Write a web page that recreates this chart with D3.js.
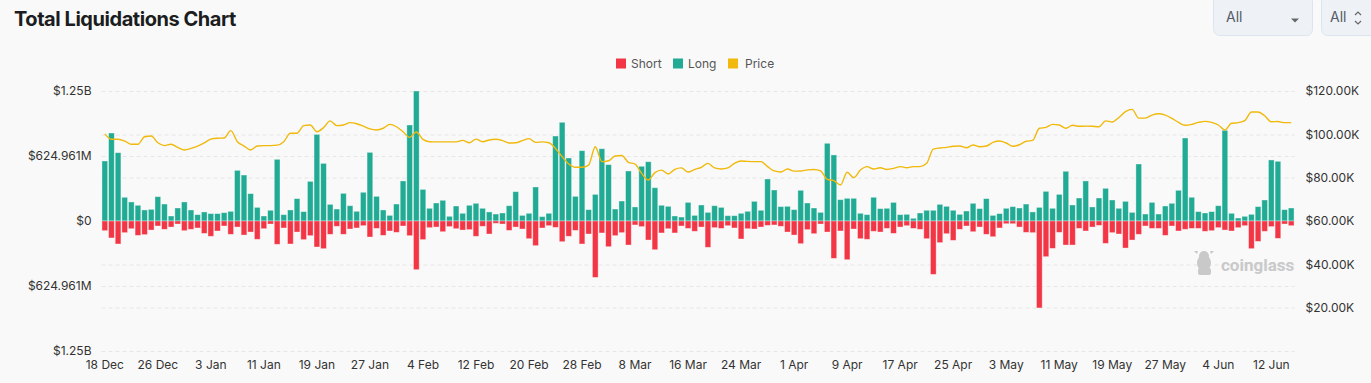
<!DOCTYPE html>
<html>
<head>
<meta charset="utf-8">
<script src="https://cdn.jsdelivr.net/npm/d3@7/dist/d3.min.js"></script>
<style>
  html, body { margin: 0; padding: 0; background: #f9f9f9; }
  svg { display: block; font-family: Inter, "Noto Sans", sans-serif; }
</style>
</head>
<body>
<svg id="chart" width="1371" height="383"></svg>
<script>
// ---- DATA (daily, 18 Dec 2024 – 15 Jun 2025) ----
const startDate = "2024-12-18";
const dayCount = 180;
const longValues = [ // USD millions
  577, 846, 657, 228, 183, 151, 106, 112, 234, 163,
  48, 125, 183, 106, 61, 87, 71, 71, 80, 93,
  487, 442, 263, 131, 48, 103, 593, 61, 106, 215,
  90, 381, 833, 554, 160, 115, 266, 147, 93, 276,
  660, 237, 106, 54, 163, 385, 923, 1250, 304, 122,
  173, 199, 45, 144, 74, 151, 170, 122, 87, 67,
  77, 147, 282, 54, 74, 327, 42, 74, 817, 949,
  606, 237, 676, 109, 256, 695, 542, 115, 192, 481,
  135, 526, 570, 320, 151, 141, 48, 38, 179, 54,
  154, 83, 147, 131, 51, 51, 74, 93, 189, 103,
  404, 298, 138, 141, 109, 295, 173, 125, 83, 747,
  635, 205, 218, 218, 74, 61, 228, 119, 122, 179,
  61, 64, 26, 77, 103, 103, 160, 141, 103, 64,
  96, 170, 119, 215, 54, 71, 122, 138, 125, 163,
  87, 131, 285, 122, 256, 478, 154, 221, 385, 135,
  221, 314, 202, 122, 189, 83, 548, 67, 179, 67,
  144, 170, 295, 798, 228, 90, 77, 90, 147, 872,
  74, 29, 45, 64, 138, 202, 587, 574, 109, 125
];
const shortValues = [ // USD millions
  93, 163, 221, 112, 74, 138, 131, 87, 48, 80,
  58, 29, 93, 80, 67, 119, 147, 96, 48, 128,
  58, 135, 106, 176, 74, 29, 224, 67, 221, 106,
  179, 141, 250, 266, 128, 51, 128, 77, 67, 45,
  154, 71, 138, 96, 109, 48, 141, 468, 179, 64,
  58, 103, 54, 74, 87, 83, 147, 51, 125, 22,
  29, 90, 58, 77, 170, 237, 67, 45, 61, 199,
  147, 90, 221, 125, 542, 115, 247, 141, 112, 231,
  38, 54, 183, 276, 115, 74, 115, 48, 71, 99,
  58, 253, 64, 71, 45, 67, 173, 74, 77, 58,
  42, 38, 51, 106, 135, 218, 83, 122, 29, 106,
  359, 96, 372, 77, 170, 176, 99, 106, 71, 119,
  58, 45, 71, 80, 170, 513, 208, 122, 186, 80,
  48, 103, 58, 128, 151, 67, 26, 26, 58, 109,
  112, 836, 343, 263, 109, 231, 231, 71, 96, 58,
  42, 215, 112, 125, 260, 183, 128, 48, 71, 71,
  138, 48, 96, 80, 71, 71, 99, 93, 64, 87,
  96, 64, 45, 266, 196, 99, 54, 167, 29, 45
];
const priceValues = [ // USD thousands
  100.2, 97.7, 97.7, 96.9, 95.4, 95.4, 98.9, 99.2, 96.1, 94.8,
  95.4, 94.0, 92.8, 93.5, 94.6, 96.1, 97.8, 98.2, 98.3, 101.7,
  96.6, 94.6, 92.8, 94.6, 94.8, 94.8, 95.0, 96.6, 100.5, 100.5,
  104.0, 104.3, 101.2, 103.1, 106.2, 104.0, 104.3, 105.4, 104.9, 103.8,
  102.5, 102.0, 102.8, 104.6, 103.5, 101.2, 98.6, 101.1, 97.7, 96.6,
  96.5, 96.5, 96.5, 96.5, 97.2, 96.1, 97.8, 96.6, 97.4, 97.7,
  97.1, 96.0, 96.1, 97.1, 98.0, 96.3, 96.5, 96.1, 93.5, 89.7,
  86.3, 84.8, 84.8, 85.8, 94.3, 87.4, 87.8, 90.0, 90.2, 87.1,
  86.3, 82.0, 78.9, 82.3, 83.5, 81.7, 83.8, 84.5, 82.6, 83.8,
  84.8, 86.6, 84.5, 84.0, 84.5, 86.6, 87.7, 87.5, 87.4, 87.4,
  85.1, 83.1, 82.6, 84.0, 83.0, 83.1, 83.6, 83.8, 83.1, 79.2,
  78.6, 76.6, 82.5, 80.0, 83.5, 85.1, 84.0, 84.6, 83.8, 84.3,
  85.1, 84.6, 85.1, 85.1, 86.6, 93.2, 93.7, 94.0, 94.5, 94.6,
  93.8, 95.1, 94.3, 94.6, 96.3, 96.9, 96.0, 94.5, 95.2, 96.8,
  97.2, 102.8, 103.2, 104.6, 104.3, 102.8, 104.2, 103.7, 103.8, 103.7,
  103.5, 106.2, 105.7, 107.8, 110.5, 111.5, 107.5, 107.5, 108.9, 109.5,
  108.9, 107.4, 105.5, 104.2, 104.6, 105.5, 106.0, 105.5, 104.3, 102.0,
  105.1, 105.4, 106.3, 110.3, 110.3, 108.6, 105.8, 105.9, 105.4, 105.4
];
const xTickLabels = ["18 Dec","26 Dec","3 Jan","11 Jan","19 Jan","27 Jan","4 Feb","12 Feb","20 Feb","28 Feb","8 Mar","16 Mar","24 Mar","1 Apr","9 Apr","17 Apr","25 Apr","3 May","11 May","19 May","27 May","4 Jun","12 Jun"];
const leftTicks = [1249.922, 624.961, 0, -624.961, -1249.922];
const leftTickLabels = ["$1.25B", "$624.961M", "$0", "$624.961M", "$1.25B"];
const rightTicks = [120, 100, 80, 60, 40, 20];
const rightTickLabels = ["$120.00K", "$100.00K", "$80.00K", "$60.00K", "$40.00K", "$20.00K"];
const legendItems = ["Short", "Long", "Price"];

// ---- build ----
const svg = d3.select("#chart");
const W = 1371, H = 383;
const margin = { left: 101.5, right: 76.5, top: 91, bottom: 32 };
const colors = { Short: "#f23645", Long: "#22ab94", Price: "#f0b90b" };

const fmt = d3.utcFormat("%-d %b");
const parse = d3.utcParse("%Y-%m-%d");
const t0 = parse(startDate);
const dates = d3.range(dayCount).map(i => d3.utcDay.offset(t0, i));
const keys = dates.map(d => fmt(d));

const x = d3.scaleBand().domain(keys).range([margin.left, W - margin.right]).paddingInner(0.14).paddingOuter(0.07);
const yL = d3.scaleLinear().domain([-1249.922, 1249.922]).range([H - margin.bottom, margin.top]);
const yR = d3.scaleLinear().domain([0, 120]).range([H - margin.bottom, margin.top]);

// title
svg.append("text").attr("x", 14).attr("y", 26).text("Total Liquidations Chart")
  .attr("font-size", 20).attr("font-weight", 700).attr("fill", "#1b1d21").attr("letter-spacing", -0.45);

// dropdowns
const dd = svg.append("g");
dd.append("rect").attr("x", 1213.5).attr("y", -4).attr("width", 99).attr("height", 39.5).attr("rx", 6)
  .attr("fill", "#eef2f6").attr("stroke", "#dce5ee");
dd.append("text").attr("x", 1226).attr("y", 22).text("All").attr("font-size", 14).attr("fill", "#555b66");
dd.append("path").attr("d", "M1291,18.5 L1299,18.5 L1295,22.5 Z").attr("fill", "#666");
dd.append("rect").attr("x", 1321.5).attr("y", -4).attr("width", 60).attr("height", 39.5).attr("rx", 6)
  .attr("fill", "#eef2f6").attr("stroke", "#dce5ee");
dd.append("text").attr("x", 1330).attr("y", 22).text("All").attr("font-size", 14).attr("fill", "#555b66");
dd.append("path").attr("d", "M1355,15 L1358,12 L1361,15 M1355,21 L1358,24 L1361,21").attr("fill", "none").attr("stroke", "#666").attr("stroke-width", 1.2);

// legend
const legX = [616, 673, 728];
const legTextDx = [15, 15, 17];
legendItems.forEach((k, i) => {
  svg.append("rect").attr("x", legX[i]).attr("y", 58.5).attr("width", 10).attr("height", 10).attr("fill", colors[k]);
  svg.append("text").attr("x", legX[i] + legTextDx[i]).attr("y", 67.5).text(k).attr("font-size", 12).attr("fill", "#555");
});

// grid lines
const grid = svg.append("g");
const gridYs = Array.from(new Set(leftTicks.map(v => Math.round(yL(v) * 2) / 2).concat(rightTicks.map(v => Math.round(yR(v) * 2) / 2))));
gridYs.forEach(gy => {
  grid.append("line").attr("x1", margin.left).attr("x2", W - margin.right).attr("y1", gy + 0.5).attr("y2", gy + 0.5)
    .attr("stroke", "#e6e6e6").attr("stroke-dasharray", "4,3");
});

// watermark
const wm = svg.append("g").attr("fill", "#c9c9c9");
wm.append("ellipse").attr("cx", 1204).attr("cy", 263).attr("rx", 7).attr("ry", 8);
wm.append("circle").attr("cx", 1204).attr("cy", 256).attr("r", 5);
wm.append("rect").attr("x", 1198).attr("y", 268).attr("width", 13).attr("height", 7).attr("rx", 2);
wm.append("path").attr("d", "M1197,254 l-3,-3 l4,0 Z M1211,254 l3,-3 l-4,0 Z");
wm.append("text").attr("x", 1221).attr("y", 271).text("coinglass").attr("font-size", 17).attr("font-weight", 700)
  .attr("font-family", "Roboto, sans-serif").attr("fill", "#c9c9c9");

// bars
const bars = svg.append("g");
bars.selectAll(".long").data(longValues).join("rect").attr("class", "long")
  .attr("x", (d, i) => x(keys[i])).attr("width", x.bandwidth())
  .attr("y", d => yL(d)).attr("height", d => yL(0) - yL(d))
  .attr("fill", colors.Long).attr("stroke", "rgba(255,255,255,0.45)").attr("stroke-width", 0.8);
bars.selectAll(".short").data(shortValues).join("rect").attr("class", "short")
  .attr("x", (d, i) => x(keys[i])).attr("width", x.bandwidth())
  .attr("y", yL(0)).attr("height", d => yL(-d) - yL(0))
  .attr("fill", colors.Short).attr("stroke", "rgba(255,255,255,0.45)").attr("stroke-width", 0.8);

// price line
const line = d3.line().x((d, i) => x(keys[i]) + x.bandwidth() / 2).y(d => yR(d)).curve(d3.curveMonotoneX);
svg.append("path").datum(priceValues).attr("d", line).attr("fill", "none")
  .attr("stroke", colors.Price).attr("stroke-width", 1.4);

// left axis
const axL = svg.append("g").attr("transform", `translate(${margin.left - 7},0)`)
  .call(d3.axisLeft(yL).tickValues(leftTicks).tickFormat((d, i) => leftTickLabels[i]).tickSize(0));
axL.select(".domain").remove();
axL.selectAll("text").attr("font-size", 12).attr("fill", "#333").attr("font-family", "Inter, sans-serif");

// right axis
const axR = svg.append("g").attr("transform", `translate(${W - margin.right + 8},0)`)
  .call(d3.axisRight(yR).tickValues(rightTicks).tickFormat((d, i) => rightTickLabels[i]).tickSize(0));
axR.select(".domain").remove();
axR.selectAll("text").attr("font-size", 12).attr("fill", "#333").attr("font-family", "Inter, sans-serif");

// x axis
const axB = svg.append("g").attr("transform", `translate(0,${H - margin.bottom + 1})`)
  .call(d3.axisBottom(x).tickValues(xTickLabels).tickSize(0).tickPadding(8));
axB.select(".domain").remove();
axB.selectAll("text").attr("font-size", 12).attr("fill", "#333").attr("font-family", "Inter, sans-serif");
</script>
</body>
</html>
